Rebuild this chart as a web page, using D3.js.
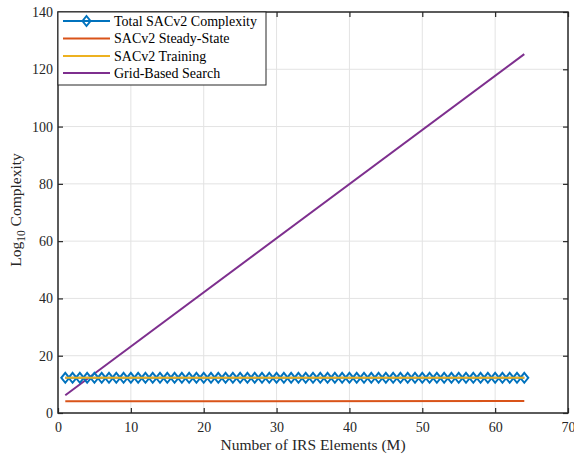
<!DOCTYPE html>
<html>
<head>
<meta charset="utf-8">
<script src="https://cdn.jsdelivr.net/npm/d3@7"></script>
<style>
  body { margin: 0; background: #fff; }
  text { font-family: "Liberation Serif", "DejaVu Serif", serif; }
</style>
</head>
<body>
<svg id="chart" width="574" height="455"></svg>
<script>
// number of IRS elements
var elements = [1,2,3,4,5,6,7,8,9,10,11,12,13,14,15,16,17,18,19,20,21,22,23,24,25,26,27,28,29,30,31,32,
  33,34,35,36,37,38,39,40,41,42,43,44,45,46,47,48,49,50,51,52,53,54,55,56,57,58,59,60,61,62,63,64];
// log10 complexity (flat over M)
var totalSac = [12.3,12.3,12.3,12.3,12.3,12.3,12.3,12.3,12.3,12.3,12.3,12.3,12.3,12.3,12.3,12.3,
  12.3,12.3,12.3,12.3,12.3,12.3,12.3,12.3,12.3,12.3,12.3,12.3,12.3,12.3,12.3,12.3,
  12.3,12.3,12.3,12.3,12.3,12.3,12.3,12.3,12.3,12.3,12.3,12.3,12.3,12.3,12.3,12.3,
  12.3,12.3,12.3,12.3,12.3,12.3,12.3,12.3,12.3,12.3,12.3,12.3,12.3,12.3,12.3,12.3];
var steadyM = [1, 64];
var steadyState = [4.1, 4.2];
var trainingM = [1, 64];
var training = [12.3, 12.3];
var gridM = [1, 64];
var gridSearch = [6.2, 125.3];

var xTicks = [0,10,20,30,40,50,60,70];
var yTicks = [0,20,40,60,80,100,120,140];
var legendNames = ["Total SACv2 Complexity", "SACv2 Steady-State", "SACv2 Training", "Grid-Based Search"];
var colors = ["#0072BD", "#D95319", "#EDB120", "#7E2F8E"];

var svg = d3.select("#chart");
var plotLeft = 58, plotRight = 568, plotTop = 12, plotBottom = 413;

var x = d3.scaleLinear().domain([0, 70]).range([plotLeft, plotRight]);
var y = d3.scaleLinear().domain([0, 140]).range([plotBottom, plotTop]);

// grid
var grid = svg.append("g");
grid.selectAll(".gx").data(xTicks.slice(1, -1)).enter().append("line")
  .attr("x1", function(d) { return x(d); }).attr("x2", function(d) { return x(d); })
  .attr("y1", plotTop).attr("y2", plotBottom)
  .attr("stroke", "#e3e3e3").attr("stroke-width", 1);
grid.selectAll(".gy").data(yTicks.slice(1, -1)).enter().append("line")
  .attr("y1", function(d) { return y(d); }).attr("y2", function(d) { return y(d); })
  .attr("x1", plotLeft).attr("x2", plotRight)
  .attr("stroke", "#e3e3e3").attr("stroke-width", 1);

var line = d3.line().x(function(d) { return x(d[0]); }).y(function(d) { return y(d[1]); });
var zip = function(a, b) { return a.map(function(v, i) { return [v, b[i]]; }); };

svg.append("path").datum(zip(steadyM, steadyState)).attr("d", line)
  .attr("fill", "none").attr("stroke", colors[1]).attr("stroke-width", 2);
svg.append("path").datum(zip(gridM, gridSearch)).attr("d", line)
  .attr("fill", "none").attr("stroke", colors[3]).attr("stroke-width", 2);

// total with diamond markers
var totalData = zip(elements, totalSac);
svg.append("path").datum(totalData).attr("d", line)
  .attr("fill", "none").attr("stroke", colors[0]).attr("stroke-width", 2);
var diamond = function(cx, cy) {
  return "M" + cx + "," + (cy - 5) + "L" + (cx + 4) + "," + cy + "L" + cx + "," + (cy + 5) + "L" + (cx - 4) + "," + cy + "Z";
};
svg.selectAll(".mk").data(totalData).enter().append("path")
  .attr("d", function(d) { return diamond(x(d[0]), y(d[1])); })
  .attr("fill", "none").attr("stroke", colors[0]).attr("stroke-width", 2);
// training line shows through the hollow markers
svg.append("path").datum(zip(trainingM, training)).attr("d", line)
  .attr("fill", "none").attr("stroke", colors[2]).attr("stroke-width", 2);

// axes box
var axisColor = "#262626";
svg.append("rect").attr("x", plotLeft).attr("y", plotTop).attr("width", plotRight - plotLeft).attr("height", plotBottom - plotTop)
  .attr("fill", "none").attr("stroke", axisColor).attr("stroke-width", 1.5);

var tl = 5;
svg.append("g").attr("transform", "translate(0," + plotBottom + ")")
  .call(d3.axisBottom(x).tickValues(xTicks).tickSize(-tl).tickPadding(9))
  .call(function(g) { g.select(".domain").remove(); });
svg.append("g").attr("transform", "translate(0," + plotTop + ")")
  .call(d3.axisTop(x).tickValues(xTicks).tickSize(-tl).tickFormat(""))
  .call(function(g) { g.select(".domain").remove(); });
svg.append("g").attr("transform", "translate(" + plotLeft + ",0)")
  .call(d3.axisLeft(y).tickValues(yTicks).tickSize(-tl).tickPadding(5))
  .call(function(g) { g.select(".domain").remove(); });
svg.append("g").attr("transform", "translate(" + plotRight + ",0)")
  .call(d3.axisRight(y).tickValues(yTicks).tickSize(-tl).tickFormat(""))
  .call(function(g) { g.select(".domain").remove(); });
svg.selectAll(".tick line").attr("stroke", axisColor).attr("stroke-width", 1.2);
svg.selectAll(".tick text").attr("fill", "#262626")
  .style("font-family", "'Liberation Serif', serif").style("font-size", "14px");

// axis labels
svg.append("text").attr("x", 313).attr("y", 450).attr("text-anchor", "middle")
  .attr("fill", "#262626").style("font-size", "15.5px").text("Number of IRS Elements (M)");
var yl = svg.append("text").attr("transform", "translate(21,210) rotate(-90)")
  .attr("text-anchor", "middle").attr("fill", "#262626").style("font-size", "15.5px");
yl.append("tspan").text("Log");
yl.append("tspan").attr("dy", 4).style("font-size", "11.5px").text("10");
yl.append("tspan").attr("dy", -4).text(" Complexity");

// legend
var lg = svg.append("g");
lg.append("rect").attr("x", plotLeft).attr("y", plotTop).attr("width", 208).attr("height", 73)
  .attr("fill", "#fff").attr("stroke", axisColor).attr("stroke-width", 1);
var rowY = [21, 38.5, 56, 73];
legendNames.forEach(function(name, i) {
  lg.append("line").attr("x1", 63).attr("x2", 110).attr("y1", rowY[i]).attr("y2", rowY[i])
    .attr("stroke", colors[i]).attr("stroke-width", 2);
  if (i === 0) {
    lg.append("path").attr("d", diamond(86.5, rowY[i])).attr("fill", "none")
      .attr("stroke", colors[0]).attr("stroke-width", 2);
  }
  lg.append("text").attr("x", 114).attr("y", rowY[i]).attr("dy", "0.35em")
    .attr("fill", "#000").style("font-size", "14px").text(name);
});
</script>
</body>
</html>
